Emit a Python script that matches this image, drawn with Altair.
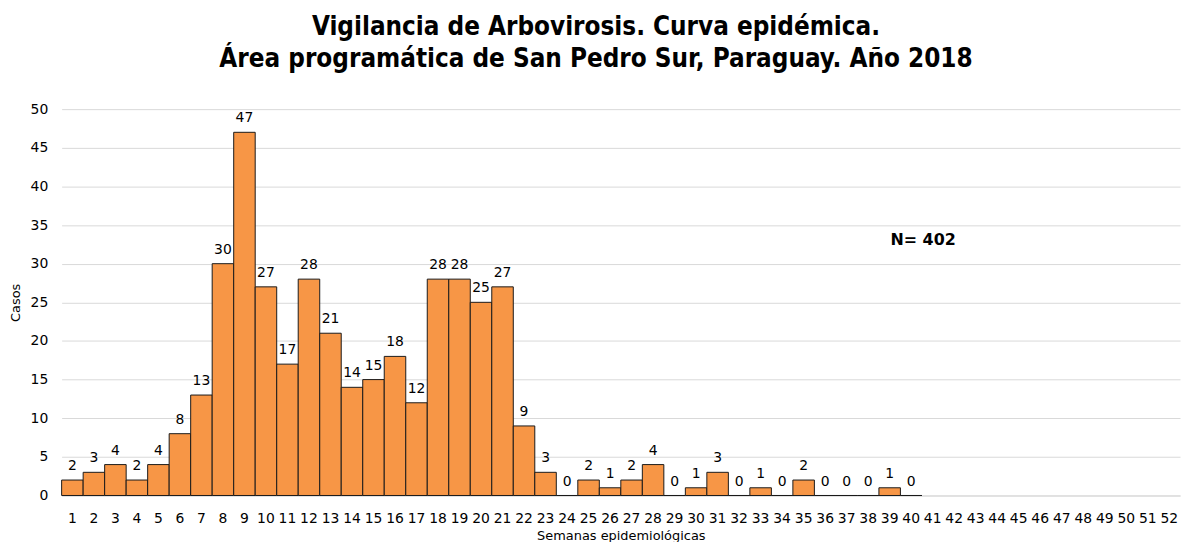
import altair as alt
import pandas as pd

weeks = list(range(1, 53))
cases = [2, 3, 4, 2, 4, 8, 13, 30, 47, 27, 17, 28, 21, 14, 15, 18, 12, 28, 28, 25,
         27, 9, 3, 0, 2, 1, 2, 4, 0, 1, 3, 0, 1, 0, 2, 0, 0, 0, 1, 0]
title_lines = ["Vigilancia de Arbovirosis. Curva epidémica.",
               "Área programática de San Pedro Sur, Paraguay. Año 2018"]
note_text = ["N= 402"]
note_week = ["40"]
note_y = [33]

vals = cases + [None] * (len(weeks) - len(cases))
df = pd.DataFrame({"week": [str(w) for w in weeks], "casos": vals})
df_lab = df[df["casos"].notna()]
df_note = pd.DataFrame({"week": note_week, "y": note_y, "t": note_text})

FONT = "DejaVu Sans"
order = [str(w) for w in weeks]
xaxis = alt.Axis(title="Semanas epidemiológicas", labelAngle=0, ticks=False,
                 labelFontSize=14, labelPadding=16, titleFontSize=13,
                 titlePadding=4, domainColor="#d9d9d9", labelColor="#000",
                 titleColor="#000", labelFont=FONT, titleFont=FONT,
                 titleFontWeight="normal")
yaxis = alt.Axis(title="Casos", values=list(range(0, 51, 5)), ticks=False,
                 domain=False, gridColor="#d9d9d9", labelFontSize=14,
                 labelPadding=14, titleFontSize=13, titlePadding=8,
                 labelColor="#000", titleColor="#000", labelFont=FONT,
                 titleFont=FONT, titleFontWeight="normal")
xscale = alt.Scale(domain=order, paddingInner=0, paddingOuter=0)
yscale = alt.Scale(domain=[0, 50])

bars = alt.Chart(df).mark_bar(color="#F79646", stroke="#1a1a1a", strokeWidth=1).encode(
    x=alt.X("week:N", sort=order, scale=xscale, axis=xaxis),
    y=alt.Y("casos:Q", scale=yscale, axis=yaxis),
)
labels = alt.Chart(df_lab).mark_text(dy=-14, fontSize=14, font=FONT, color="#000").encode(
    x=alt.X("week:N", sort=order, scale=xscale, axis=xaxis),
    y=alt.Y("casos:Q", scale=yscale, axis=yaxis),
    text=alt.Text("casos:Q", format="d"),
)
note = alt.Chart(df_note).mark_text(fontSize=16, fontWeight="bold", font=FONT, color="#000",
                                    dx=12).encode(
    x=alt.X("week:N", sort=order, scale=xscale, axis=xaxis),
    y=alt.Y("y:Q", scale=yscale, axis=yaxis),
    text="t:N",
)

chart = alt.layer(bars, labels, note).properties(
    width=1126, height=389,
    autosize=alt.AutoSizeParams(type="none"),
    padding={"left": 54, "top": 100, "right": 2, "bottom": 45},
    title=alt.TitleParams(title_lines, fontSize=26, font="DejaVu Sans Condensed",
                          fontWeight="bold", color="#000", anchor="middle",
                          offset=30, dx=-25, lineHeight=33),
).configure_view(stroke=None)

chart.save("out.html", embed_options={"renderer": "svg", "actions": False})
